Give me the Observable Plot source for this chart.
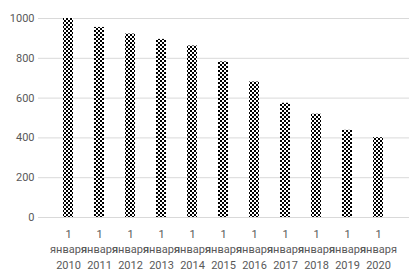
<!DOCTYPE html>
<html>
<head>
<meta charset="utf-8">
<script src="https://cdn.jsdelivr.net/npm/d3@7"></script>
<script src="https://cdn.jsdelivr.net/npm/@observablehq/plot@0.6"></script>
<style>
  html, body { margin: 0; padding: 0; background: #fff; }
  #chart svg { display: block; }
</style>
</head>
<body>
<div id="chart"></div>
<script>
const years = ["2010","2011","2012","2013","2014","2015","2016","2017","2018","2019","2020"];
const values = [1000, 955, 922, 895, 862, 782, 681, 574, 519, 438, 401];
const yTicks = [0, 200, 400, 600, 800, 1000];

const data = years.map((y, i) => ({year: y, value: values[i]}));

const chart = Plot.plot({
  width: 418,
  height: 273,
  marginLeft: 38,
  marginRight: 9,
  marginTop: 18,
  marginBottom: 56,
  style: {fontFamily: "Roboto, sans-serif", fontSize: "11px", color: "#595959", background: "#fff"},
  x: {domain: years, padding: 0.67, label: null},
  y: {domain: [0, 1000], label: null},
  marks: [
    Plot.gridY(yTicks, {stroke: "#d9d9d9", strokeOpacity: 1, strokeWidth: 1}),
    Plot.axisY(yTicks, {tickSize: 0, tickPadding: 4, label: null, fill: "#595959", tickFormat: d => String(d)}),
    Plot.axisX({tickSize: 0, tickPadding: 10, label: null, lineHeight: 1.38, fill: "#595959",
      tickFormat: d => "1\nянваря\n" + d}),
    Plot.barY(data, {x: "year", y: "value", fill: "url(#chk)"})
  ]
});

const ns = "http://www.w3.org/2000/svg";
const defs = document.createElementNS(ns, "defs");
defs.innerHTML = `<pattern id="chk" patternUnits="userSpaceOnUse" width="4" height="4">
  <rect width="4" height="4" fill="#fff"/>
  <rect x="0" y="0" width="2" height="2" fill="#000"/>
  <rect x="2" y="2" width="2" height="2" fill="#000"/>
</pattern>`;
chart.insertBefore(defs, chart.firstChild);
document.getElementById("chart").appendChild(chart);
</script>
</body>
</html>
